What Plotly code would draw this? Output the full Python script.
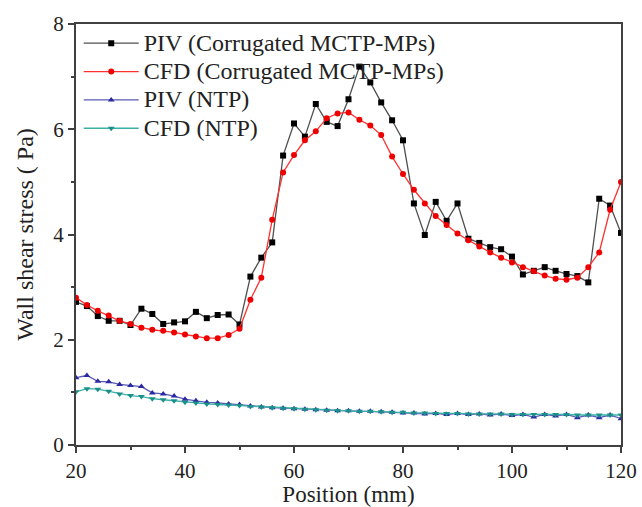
import plotly.graph_objects as go

position = list(range(20, 121, 2))

piv_corr = [2.72, 2.64, 2.45, 2.36, 2.36, 2.28, 2.59, 2.49, 2.30, 2.33,
            2.35, 2.53, 2.41, 2.47, 2.48, 2.29, 3.20, 3.56, 3.85, 5.50,
            6.11, 5.86, 6.48, 6.14, 6.06, 6.57, 7.19, 6.89, 6.51, 6.17,
            5.79, 4.59, 3.99, 4.62, 4.26, 4.59, 3.92, 3.84, 3.76, 3.72,
            3.58, 3.24, 3.31, 3.38, 3.31, 3.25, 3.21, 3.09, 4.68, 4.55,
            4.03]

cfd_corr = [2.80, 2.66, 2.55, 2.46, 2.36, 2.30, 2.23, 2.19, 2.17, 2.14,
            2.10, 2.06, 2.03, 2.03, 2.09, 2.21, 2.76, 3.18, 4.28, 5.18,
            5.51, 5.79, 5.96, 6.21, 6.30, 6.32, 6.18, 6.07, 5.89, 5.48,
            5.15, 4.85, 4.59, 4.35, 4.18, 4.02, 3.89, 3.77, 3.66, 3.56,
            3.47, 3.38, 3.30, 3.22, 3.16, 3.14, 3.18, 3.38, 3.66, 4.47,
            5.00]

piv_ntp = [1.28, 1.32, 1.21, 1.20, 1.15, 1.13, 1.11, 0.99, 0.97, 0.93,
           0.87, 0.84, 0.81, 0.80, 0.78, 0.77, 0.74, 0.72, 0.71, 0.70,
           0.69, 0.68, 0.67, 0.66, 0.65, 0.65, 0.64, 0.64, 0.63, 0.62,
           0.61, 0.61, 0.59, 0.60, 0.58, 0.60, 0.58, 0.59, 0.57, 0.59,
           0.56, 0.58, 0.53, 0.58, 0.55, 0.58, 0.52, 0.57, 0.52, 0.57,
           0.50]

cfd_ntp = [1.01, 1.07, 1.06, 1.02, 0.97, 0.94, 0.92, 0.88, 0.86, 0.84,
           0.81, 0.80, 0.78, 0.77, 0.76, 0.75, 0.73, 0.72, 0.71, 0.70,
           0.69, 0.68, 0.67, 0.66, 0.65, 0.65, 0.64, 0.64, 0.63, 0.62,
           0.62, 0.61, 0.61, 0.60, 0.60, 0.60, 0.59, 0.59, 0.59, 0.59,
           0.58, 0.58, 0.58, 0.58, 0.58, 0.58, 0.57, 0.57, 0.57, 0.57,
           0.57]

names = ["PIV (Corrugated MCTP-MPs)", "CFD (Corrugated MCTP-MPs)",
         "PIV (NTP)", "CFD (NTP)"]

x_ticks = [20, 40, 60, 80, 100, 120]
y_ticks = [0, 2, 4, 6, 8]

serif = "Liberation Serif, Times New Roman, serif"


def big(label):
    return '<span style="font-size:24px">' + label + '</span>'


fig = go.Figure()
fig.add_trace(go.Scatter(
    x=position, y=piv_corr, name=big(names[0]), mode="lines+markers",
    line=dict(color="#505050", width=1.3),
    marker=dict(symbol="square", size=6, color="#000000")))
fig.add_trace(go.Scatter(
    x=position, y=cfd_corr, name=big(names[1]), mode="lines+markers",
    line=dict(color="#ff3030", width=1.3),
    marker=dict(symbol="circle", size=6, color="#ee0000")))
fig.add_trace(go.Scatter(
    x=position, y=piv_ntp, name=big(names[2]), mode="lines+markers",
    line=dict(color="#5a5ab8", width=1.3),
    marker=dict(symbol="triangle-up", size=6, color="#2a2aa0")))
fig.add_trace(go.Scatter(
    x=position, y=cfd_ntp, name=big(names[3]), mode="lines+markers",
    line=dict(color="#3cb0a8", width=1.3),
    marker=dict(symbol="triangle-down", size=6, color="#1a9088")))

axis_common = dict(
    showline=True, linecolor="#404040", linewidth=2, mirror=True,
    ticks="outside", ticklen=6, tickwidth=1.5, tickcolor="#404040",
    showgrid=False, zeroline=False, automargin=False,
    tickfont=dict(family=serif, size=21, color="#222222"),
)

fig.update_xaxes(
    range=[20, 120], tickvals=x_ticks, ticktext=[str(v) for v in x_ticks],
    minor=dict(ticks="outside", ticklen=3, tickwidth=1.5, tickcolor="#404040",
               dtick=10, tick0=20),
    title=dict(text="Position (mm)", font=dict(family=serif, size=23, color="#222222"),
               standoff=9),
    **axis_common)
fig.update_yaxes(
    range=[0, 8], tickvals=y_ticks, ticktext=[str(v) for v in y_ticks],
    minor=dict(ticks="outside", ticklen=3, tickwidth=1.5, tickcolor="#404040",
               dtick=1, tick0=0),
    title=dict(text="Wall shear stress ( Pa)", font=dict(family=serif, size=24, color="#222222"),
               standoff=13),
    **axis_common)

fig.update_layout(
    width=642, height=507,
    margin=dict(l=76, r=21, t=24, b=62),
    paper_bgcolor="white", plot_bgcolor="white",
    showlegend=True,
    legend=dict(x=0.005, y=1.0, xanchor="left", yanchor="top",
                bgcolor="rgba(0,0,0,0)", borderwidth=0,
                font=dict(family=serif, size=19.5, color="#222222"),
                tracegroupgap=0, itemwidth=55),
)

fig.write_html("out.html")
